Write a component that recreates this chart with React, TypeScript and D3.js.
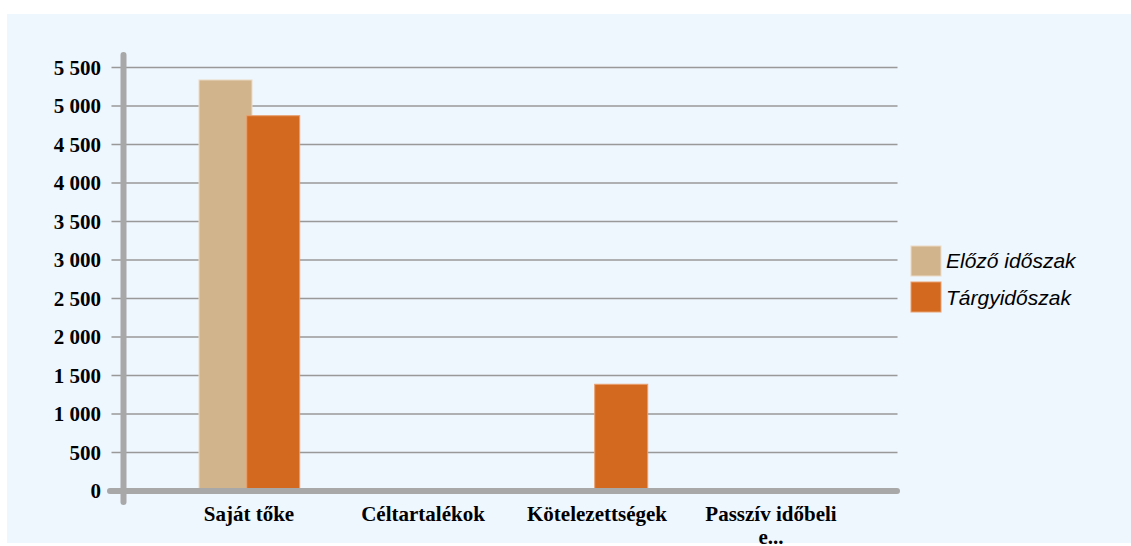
import React from "react";
import * as d3 from "d3";

const categories: string[][] = [["Saját tőke"], ["Céltartalékok"], ["Kötelezettségek"], ["Passzív időbeli", "e..."]];
const seriesNames = ["Előző időszak", "Tárgyidőszak"];
const previousValues = [5338, 0, 0, 0];
const currentValues = [4874, 0, 1386, 0];
const yTicks = [0, 500, 1000, 1500, 2000, 2500, 3000, 3500, 4000, 4500, 5000, 5500];
const colors = ["#D2B48C", "#D2691E"];
const strokes = ["#EBDCC6", "#E9A070"];

const fmt = (v: number) => {
  const s = String(v);
  return s.length > 3 ? s.slice(0, s.length - 3) + " " + s.slice(-3) : s;
};

export default function App() {
  const W = 1131, H = 546;
  const y = d3.scaleLinear().domain([0, 5500]).range([491, 67.5]);
  const x = d3.scaleBand<number>().domain(categories.map((_, i) => i)).range([162, 858]).padding(0);
  const barW = 53;
  const offsets = [-50, -2.3];
  const series = [previousValues, currentValues];
  const serif = "'Liberation Serif', 'Times New Roman', serif";
  const sans = "'Liberation Sans', Arial, sans-serif";

  return (
    <svg width={W} height={H} style={{ position: "absolute", left: 0, top: 0 }}>
      <rect x={7} y={14} width={1124} height={529} fill="#EEF6FE" />
      {yTicks.filter(t => t > 0).map(t => (
        <line key={t} x1={111.5} x2={897.5} y1={y(t)} y2={y(t)} stroke="#999" strokeWidth={1.6} />
      ))}
      {yTicks.map(t => (
        <text key={"l" + t} x={101} y={y(t) + 7} textAnchor="end" fontFamily={serif} fontWeight="bold" fontSize={21} fill="#000">
          {fmt(t)}
        </text>
      ))}
      {series.map((vals, si) =>
        vals.map((v, ci) =>
          v > 0 ? (
            <rect
              key={si + "-" + ci}
              x={(x(ci) as number) + x.bandwidth() / 2 + offsets[si]}
              y={y(v)}
              width={barW}
              height={y(0) - y(v)}
              fill={colors[si]}
              stroke={strokes[si]}
              strokeWidth={1}
            />
          ) : null
        )
      )}
      <line x1={123.5} x2={123.5} y1={55} y2={502} stroke="#A8A8A8" strokeWidth={6} strokeLinecap="round" />
      <line x1={110} x2={897} y1={491} y2={491} stroke="#A8A8A8" strokeWidth={6} strokeLinecap="round" />
      {categories.map((lines, ci) => (
        <text key={"c" + ci} textAnchor="middle" fontFamily={serif} fontWeight="bold" fontSize={21} fill="#000">
          {lines.map((ln, li) => (
            <tspan key={li} x={(x(ci) as number) + x.bandwidth() / 2} y={521 + li * 23}>{ln}</tspan>
          ))}
        </text>
      ))}
      {seriesNames.map((n, i) => (
        <g key={n}>
          <rect x={911} y={246 + i * 36} width={30} height={30} fill={colors[i]} stroke={strokes[i]} strokeWidth={1} />
          <text x={946} y={268 + i * 37} fontFamily={sans} fontStyle="italic" fontSize={21} fill="#000">{n}</text>
        </g>
      ))}
    </svg>
  );
}
